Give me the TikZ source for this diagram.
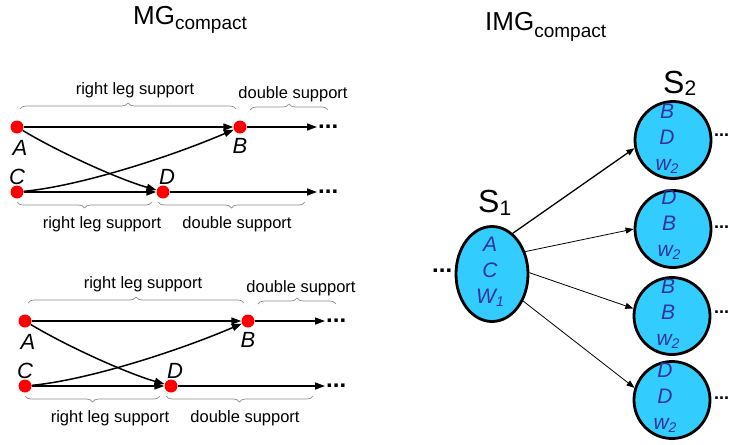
\documentclass[tikz,border=0pt]{standalone}
\usepackage{fontspec}
\setmainfont{Liberation Sans}
\usetikzlibrary{arrows.meta,decorations.pathreplacing,shapes.geometric}
\definecolor{dotred}{RGB}{255,0,0}
\definecolor{stcyan}{RGB}{51,204,255}
\definecolor{sttext}{RGB}{51,51,160}
\definecolor{bracegray}{RGB}{140,140,140}
\tikzset{
  mgdot/.style={circle,fill=dotred,inner sep=0pt,minimum size=13pt},
  mglbl/.style={font=\fontsize{22}{22}\selectfont\itshape,inner sep=0pt},
  mgarrow/.style={line width=1.5pt,-{Triangle[length=10pt,width=7pt]}},
  mgbrace/.style={draw=bracegray,line width=0.7pt,decorate,decoration={brace,amplitude=6pt}},
  mgbracedown/.style={mgbrace,decoration={mirror}},
  bracetxt/.style={font=\fontsize{16.5}{18}\selectfont,inner sep=0pt},
  ellip/.style={font=\fontsize{24}{24}\selectfont\bfseries,inner sep=1pt,anchor=west},
  ellipsm/.style={ellip,font=\fontsize{18}{18}\selectfont\bfseries,inner sep=0pt},
  stnode/.style={ellipse,draw=black,line width=2.8pt,fill=stcyan,inner sep=0pt},
  s2node/.style={stnode,minimum width=76pt,minimum height=77pt},
  sttxt/.style={font=\fontsize{21}{26}\selectfont\itshape,text=sttext,align=center,inner sep=0pt},
  starrow/.style={line width=0.8pt,-{Triangle[length=8pt,width=6pt]}},
  titletxt/.style={font=\fontsize{26}{26}\selectfont,inner sep=0pt,anchor=base west},
  slabel/.style={font=\fontsize{32}{32}\selectfont,inner sep=0pt,anchor=base west},
}
\newcommand\mgpanel[2]{%
\begin{scope}[shift={#1},name prefix=#2-]
  \node[mgdot] (A) at (17,127) {};
  \node[mgdot] (B) at (240,127) {};
  \node[mgdot] (C) at (17,192) {};
  \node[mgdot] (D) at (163,192) {};
  \node[mglbl] (lA) at (20,148) {A};
  \node[mglbl] (lB) at (240,146) {B};
  \node[mglbl] (lC) at (17,177) {C};
  \node[mglbl] (lD) at (167,177) {D};
  \node[ellip] (eB) at (317,127) {...};
  \node[ellip] (eD) at (317,192) {...};
  \draw[mgarrow] (A) -- (B);
  \draw[mgarrow] (C) -- (D);
  \draw[mgarrow] (A) .. controls (55,150) and (115,178) .. (D);
  \draw[mgarrow] (C) .. controls (80,186) and (170,157) .. (B);
  \draw[mgarrow] (B) -- (eB);
  \draw[mgarrow] (D) -- (eD);
  \draw[mgbrace] (20,109) -- (236,109);
  \draw[mgbrace] (250,110) -- (328,110);
  \draw[mgbracedown] (17,202) -- (152,202);
  \draw[mgbracedown] (158,202) -- (305,202);
  \node[bracetxt] (t1) at (135,90) {right leg support};
  \node[bracetxt] (t2) at (293,94) {double support};
  \node[bracetxt] (t3) at (102,224) {right leg support};
  \node[bracetxt] (t4) at (237,224) {double support};
\end{scope}}
\begin{document}
\begin{tikzpicture}[x=1pt,y=-1pt]
\useasboundingbox (0,0) rectangle (730,444);
% titles
\node[titletxt] (mgt) at (133,25) {MG{\fontsize{19}{19}\selectfont\raisebox{-5pt}{compact}}};
\node[titletxt] (imgt) at (485,31) {IMG{\fontsize{19}{19}\selectfont\raisebox{-6pt}{compact}}};
% left panels
\mgpanel{(0,0)}{top}
\mgpanel{(8,194)}{bot}
% right side
\node[stnode,minimum width=72pt,minimum height=95pt] (S1) at (492,274) {};
\node[sttxt] (S1t) at (490,272) {A\\C\\W{\fontsize{14}{14}\selectfont\raisebox{-3pt}{1}}};
\node[slabel] (S1l) at (478,212) {S{\fontsize{21}{21}\selectfont\raisebox{-3pt}{1}}};
\node[ellip] (eS1) at (431,271) {...};

\node[s2node] (S2a) at (673,140) {};
\node[s2node] (S2b) at (673,229) {};
\node[s2node] (S2c) at (672,316) {};
\node[s2node] (S2d) at (672,400) {};
\node[sttxt] (S2at) at (667,139) {B\\D\\w{\fontsize{14}{14}\selectfont\raisebox{-3pt}{2}}};
\node[sttxt] (S2bt) at (669,225) {D\\B\\w{\fontsize{14}{14}\selectfont\raisebox{-3pt}{2}}};
\node[sttxt] (S2ct) at (668,314) {B\\B\\w{\fontsize{14}{14}\selectfont\raisebox{-3pt}{2}}};
\node[sttxt] (S2dt) at (665,398) {D\\D\\w{\fontsize{14}{14}\selectfont\raisebox{-3pt}{2}}};
\node[slabel] (S2l) at (663,93) {S{\fontsize{21}{21}\selectfont\raisebox{-2pt}{2}}};
\node[ellipsm] (eS2a) at (714,135) {...};
\node[ellipsm] (eS2b) at (714,227) {...};
\node[ellipsm] (eS2c) at (714,312) {...};
\node[ellipsm] (eS2d) at (714,398) {...};

\draw[starrow,line width=1.3pt] (S1.63) -- (S2a.192);
\draw[starrow] (S1.34) -- (S2b.180);
\draw[starrow] (S1.2) -- (S2c.169);
\draw[starrow] (S1.-41) -- (S2d.162);
\end{tikzpicture}
\end{document}
